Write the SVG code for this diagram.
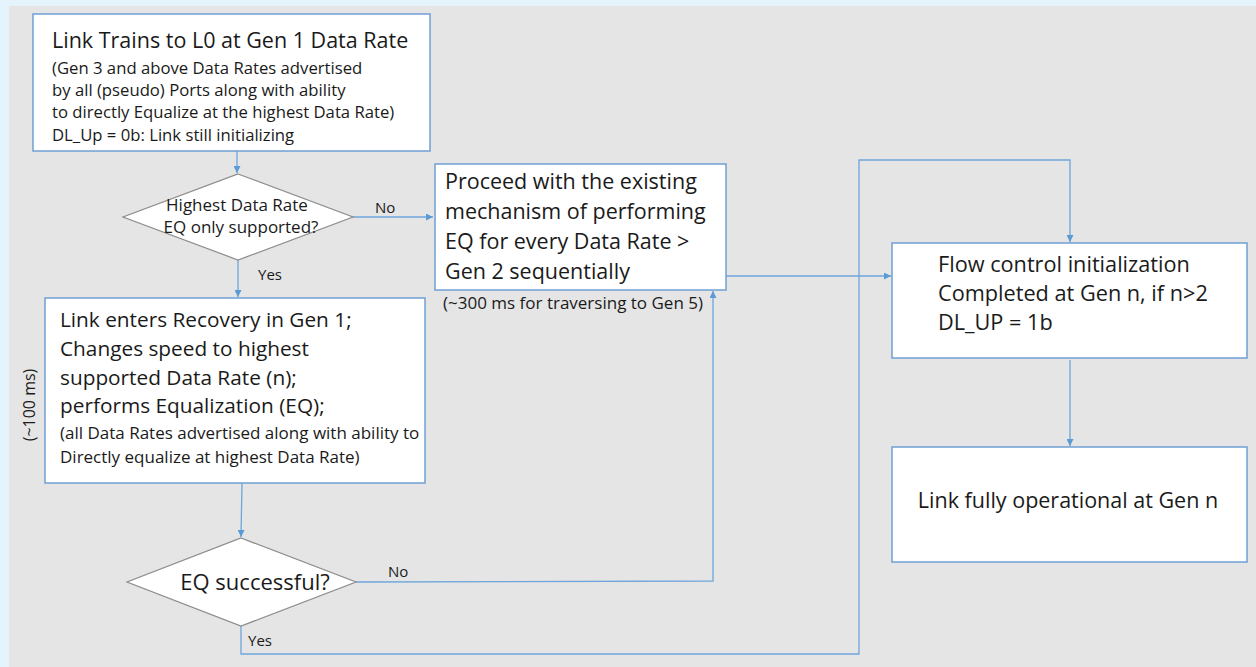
<svg xmlns="http://www.w3.org/2000/svg" width="1256" height="667" viewBox="0 0 1256 667">
<style>
text{font-family:"Open Sans","Liberation Sans",Arial,sans-serif;fill:#1a1a1a}
.box{fill:#fff;stroke:#6f9fd3;stroke-width:1.5}
.dia{fill:#fff;stroke:#8c8c8c;stroke-width:1.2}
.con{fill:none;stroke:#6ea6dc;stroke-width:1.3}
.lbl{font-size:15px}
</style>
<defs>
<marker id="ah" viewBox="0 0 10 10" refX="10" refY="5" markerWidth="7" markerHeight="7" orient="auto" markerUnits="userSpaceOnUse">
<path d="M0,0 L10,5 L0,10 z" fill="#5b9bd5"/>
</marker>
</defs>
<rect x="0" y="0" width="1256" height="667" fill="#e5f3fd"/>
<rect x="9" y="6" width="1247" height="661" fill="#e5e5e5"/>

<g id="connectors">
<path class="con" d="M237,151 L237,173" marker-end="url(#ah)"/>
<path class="con" d="M353,217 L433,217" marker-end="url(#ah)"/>
<path class="con" d="M238,260 L238,297" marker-end="url(#ah)"/>
<path class="con" d="M242,483 L241,537" marker-end="url(#ah)"/>
<path class="con" d="M356,582 L713,581 L713,291" marker-end="url(#ah)"/>
<path class="con" d="M726,276 L891,276" marker-end="url(#ah)"/>
<path class="con" d="M241,626 L241,654 L859,654 L859,160 L1070,160 L1070,242" marker-end="url(#ah)"/>
<path class="con" d="M1070,360 L1070,446" marker-end="url(#ah)"/>
</g>

<g id="n1">
<rect class="box" x="33" y="14" width="397" height="137"/>
<text font-size="21.5" x="52" y="48">Link Trains to L0 at Gen 1 Data Rate</text>
<g font-size="16.7">
<text x="52" y="74">(Gen 3 and above Data Rates advertised</text>
<text x="52" y="96">by all (pseudo)  Ports along with ability</text>
<text x="52" y="118">to directly Equalize at the highest Data Rate)</text>
<text x="52" y="141">DL_Up = 0b: Link still initializing</text>
</g>
</g>

<g id="d1">
<polygon class="dia" points="238,174 353,217 238,260 123,217"/>
<text font-size="17" x="237" y="211" text-anchor="middle">Highest Data Rate</text>
<text font-size="17" x="241" y="233" text-anchor="middle">EQ only supported?</text>
</g>

<g id="n2">
<rect class="box" x="435" y="164" width="291" height="126"/>
<g font-size="21.5">
<text x="445" y="189">Proceed with the existing</text>
<text x="445" y="219">mechanism of performing</text>
<text x="445" y="249">EQ for every Data Rate &gt;</text>
<text x="445" y="279">Gen 2 sequentially</text>
</g>
</g>
<text font-size="17" x="443" y="309">(~300 ms for traversing to Gen 5)</text>

<g id="n3">
<rect class="box" x="45" y="298" width="380" height="185"/>
<g font-size="20.8">
<text x="60" y="327">Link enters Recovery in Gen 1;</text>
<text x="60" y="356">Changes speed to highest</text>
<text x="60" y="385">supported Data Rate (n);</text>
<text x="60" y="413">performs Equalization (EQ);</text>
</g>
<g font-size="17">
<text x="60" y="439">(all Data Rates advertised along with ability to</text>
<text x="60" y="463">Directly equalize at highest Data Rate)</text>
</g>
</g>
<text font-size="16" x="0" y="0" text-anchor="middle" transform="translate(35,405) rotate(-90)">(~100 ms)</text>

<g id="d2">
<polygon class="dia" points="241,538 356,582 241,626 127,582"/>
<text font-size="22" x="255" y="590" text-anchor="middle">EQ successful?</text>
</g>

<g id="n4">
<rect class="box" x="892" y="243" width="355" height="115"/>
<g font-size="21.7">
<text x="938" y="272">Flow control initialization</text>
<text x="938" y="301">Completed at Gen n, if n&gt;2</text>
<text x="938" y="330">DL_UP = 1b</text>
</g>
</g>

<g id="n5">
<rect class="box" x="892" y="447" width="355" height="115"/>
<text font-size="21.5" x="1068" y="508" text-anchor="middle">Link fully operational at Gen n</text>
</g>

<g id="labels">
<text class="lbl" x="375" y="213">No</text>
<text class="lbl" x="258" y="280">Yes</text>
<text class="lbl" x="388" y="577">No</text>
<text class="lbl" x="248" y="646">Yes</text>
</g>
</svg>
